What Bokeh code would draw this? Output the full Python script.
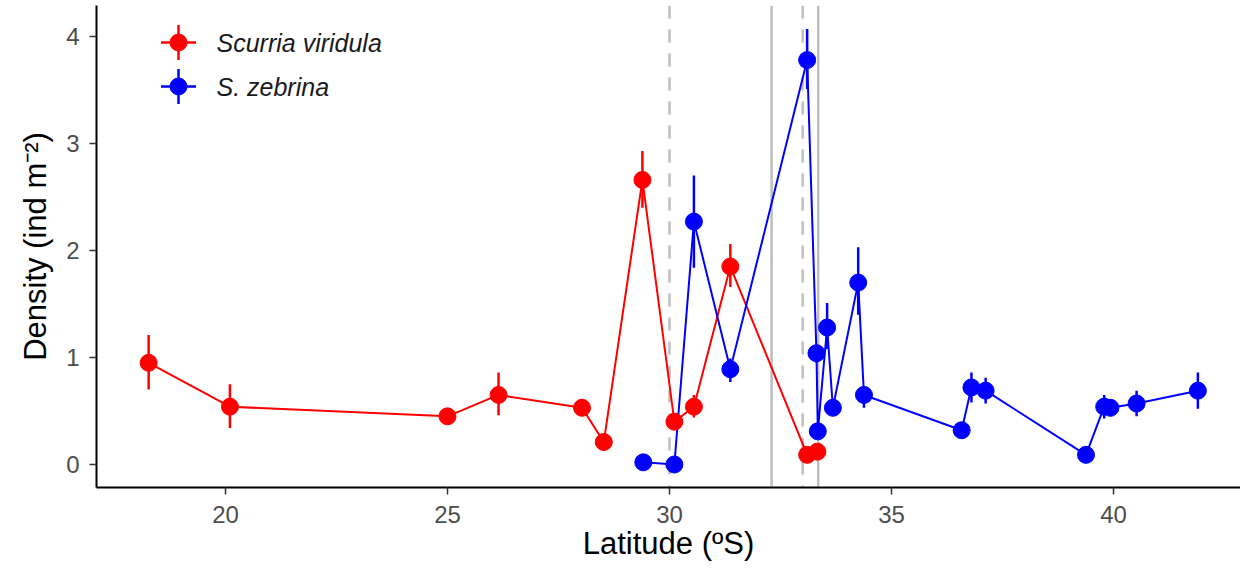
from bokeh.plotting import figure
from bokeh.models import Span, Range1d, FixedTicker
from bokeh.embed import file_html
from bokeh.resources import INLINE
from bokeh.core.properties import value

# ---- data -------------------------------------------------------------
species = ["Scurria viridula", "S. zebrina"]
colors = ["#FF0000", "#0000FF"]

sv_lat = [18.27, 20.1, 25.0, 26.15, 28.03, 28.52, 29.39, 30.11, 30.55, 31.37, 33.1, 33.33]
sv_den = [0.95, 0.54, 0.45, 0.65, 0.53, 0.21, 2.66, 0.40, 0.54, 1.85, 0.09, 0.12]
sv_lo = [0.70, 0.34, 0.42, 0.46, 0.49, 0.18, 2.40, 0.36, 0.44, 1.66, 0.07, 0.10]
sv_hi = [1.21, 0.75, 0.48, 0.86, 0.58, 0.24, 2.93, 0.44, 0.65, 2.06, 0.11, 0.14]

sz_lat = [29.41, 30.11, 30.55, 31.37, 33.1, 33.31, 33.34, 33.55, 33.68, 34.25, 34.38,
          36.58, 36.8, 37.12, 39.38, 39.79, 39.93, 40.52, 41.9]
sz_den = [0.02, 0.0, 2.27, 0.89, 3.78, 1.04, 0.31, 1.28, 0.53, 1.70, 0.65,
          0.32, 0.72, 0.69, 0.09, 0.54, 0.53, 0.57, 0.69]
sz_lo = [0.01, 0.0, 1.84, 0.77, 3.51, 0.95, 0.28, 1.08, 0.48, 1.40, 0.53,
         0.29, 0.58, 0.57, 0.07, 0.43, 0.45, 0.45, 0.52]
sz_hi = [0.03, 0.01, 2.70, 0.99, 4.07, 1.12, 0.34, 1.51, 0.58, 2.03, 0.72,
         0.35, 0.86, 0.81, 0.11, 0.65, 0.60, 0.69, 0.86]

dashed_lines = [30.0, 33.0]
solid_lines = [32.3, 33.35]
x_ticks = [20, 25, 30, 35, 40]
y_ticks = [0, 1, 2, 3, 4]

x_title = "Latitude (ºS)"
y_title = "Density (ind m\u207b\u00b2)"

# ---- figure -----------------------------------------------------------
X0, X1 = 17.095, 42.86
Y0, Y1 = -0.215, 4.29
FONT = "Liberation Sans"
FL, FR, FT, FB = 96, 1240, 5, 487   # frame edges (px)

p = figure(width=1240, height=563, output_backend="svg", toolbar_location=None,
           x_range=Range1d(X0, X1), y_range=Range1d(Y0, Y1),
           min_border_left=FL, min_border_right=0, min_border_top=FT,
           min_border_bottom=563 - FB)

p.xgrid.visible = False
p.ygrid.visible = False
p.outline_line_color = None
p.background_fill_color = "white"
p.border_fill_color = "white"

p.xaxis.ticker = FixedTicker(ticks=x_ticks)
p.yaxis.ticker = FixedTicker(ticks=y_ticks)
for ax in (p.xaxis[0], p.yaxis[0]):
    ax.axis_line_color = "black"
    ax.axis_line_width = 2
    ax.major_tick_out = 7
    ax.major_tick_in = 0
    ax.major_tick_line_color = "#333333"
    ax.major_tick_line_width = 1.5
    ax.minor_tick_line_color = None
    ax.major_label_text_font = FONT
    ax.major_label_text_font_size = "24px"
    ax.major_label_text_color = "#4D4D4D"
    ax.axis_label_text_font = FONT
    ax.axis_label_text_font_size = "31px"
    ax.axis_label_text_font_style = "normal"
    ax.axis_label_text_color = "black"

p.xaxis.axis_label = x_title
p.yaxis.axis_label = y_title
p.xaxis.major_label_standoff = 11
p.xaxis.axis_label_standoff = 0
p.yaxis.major_label_standoff = 10
p.yaxis.axis_label_standoff = 10

# reference lines
for v in dashed_lines:
    p.add_layout(Span(location=v, dimension="height", line_color="#BEBEBE",
                      line_width=2.5, line_dash="13 11", level="underlay"))
for v in solid_lines:
    p.add_layout(Span(location=v, dimension="height", line_color="#BEBEBE",
                      line_width=2.5, level="underlay"))

series = [(sv_lat, sv_den, sv_lo, sv_hi), (sz_lat, sz_den, sz_lo, sz_hi)]

for (lat, den, lo, hi), c in zip(series, colors):
    p.line(lat, den, line_color=c, line_width=2)
for (lat, den, lo, hi), c in zip(series, colors):
    p.segment(x0=lat, y0=lo, x1=lat, y1=hi, line_color=c, line_width=2.5)
    p.scatter(lat, den, marker="circle", size=17, fill_color=c, line_color=c)

# ---- legend (top-left, inside the panel) -------------------------------
def fx(px):
    return X0 + (px - FL) / (FR - FL) * (X1 - X0)

def fy(py):
    return Y1 - (py - FT) / (FB - FT) * (Y1 - Y0)

for i, (name, c) in enumerate(zip(species, colors)):
    gy = fy(42 + 44 * i)
    gx = fx(178)
    p.scatter([gx], [gy], marker="cross", size=35, line_color=c, line_width=2.5)
    p.scatter([gx], [gy], marker="circle", size=17, fill_color=c, line_color=c)
    p.text([fx(216)], [gy], text=[name], text_font=value(FONT),
           text_font_size="25px", text_font_style="italic",
           text_baseline="middle", text_align="left", text_color="#1A1A1A")

open("out.html", "w").write(file_html(p, INLINE))
